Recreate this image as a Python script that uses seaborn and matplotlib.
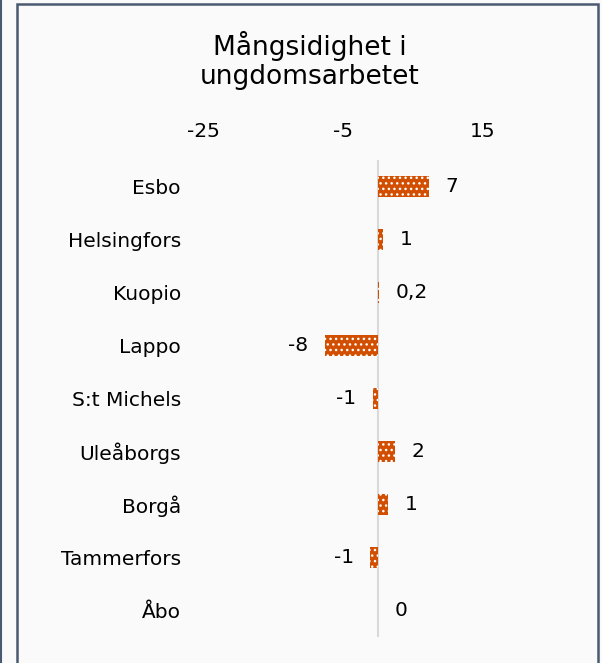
import numpy as np
import pandas as pd
import matplotlib
matplotlib.use("Agg")
import matplotlib.pyplot as plt
import matplotlib.patches as mpatches
import matplotlib.lines as mlines
import seaborn as sns

# data
kommuner = ["Esbo", "Helsingfors", "Kuopio", "Lappo", "S:t Michels",
            "Uleåborgs", "Borgå", "Tammerfors", "Åbo"]
varden = [7.3, 0.7, 0.2, -7.6, -0.7, 2.4, 1.4, -1.1, 0.0]
etiketter = ["7", "1", "0,2", "-8", "-1", "2", "1", "-1", "0"]
x_ticks = [-25, -5, 15]

titel = "Mångsidighet i\nungdomsarbetet"

sns.set_style("white")
plt.rcParams["font.family"] = ["DejaVu Sans"]
plt.rcParams["text.color"] = "black"
plt.rcParams["xtick.color"] = "black"
plt.rcParams["ytick.color"] = "black"
plt.rcParams["hatch.linewidth"] = 1.0

bg = "#FAFAFA"
bar_color = "#D24E01"
frame_color = "#4A5A72"

fig = plt.figure(figsize=(6.02, 6.63), dpi=100, facecolor=bg)
ax = fig.add_axes([203/602, 1-637/663, 280/602, 477/663])
ax.set_facecolor(bg)

df = pd.DataFrame({"kommun": kommuner, "varde": varden})
sns.barplot(data=df, x="varde", y="kommun", orient="h", color=bar_color,
            saturation=1, width=0.4, ax=ax, hatch="...", edgecolor="white",
            linewidth=0)

# zero line
ax.axvline(0, color="#D9D9D9", lw=1.5, zorder=0)

ax.set_xlim(-25, 15)
ax.set_xticks(x_ticks)
ax.set_xticklabels([str(t) for t in x_ticks])
ax.xaxis.tick_top()
ax.tick_params(axis="x", length=0, pad=14, labelsize=14.5)
ax.tick_params(axis="y", length=0, pad=16, labelsize=14.5)
ax.set_xlabel("")
ax.set_ylabel("")
for s in ax.spines.values():
    s.set_visible(False)

# data labels
ax.bar_label(ax.containers[0], labels=etiketter, padding=12, fontsize=14.5,
             color="black")

# title
fig.text(310/602, 1-60/663, titel, ha="center", va="center", fontsize=19,
         linespacing=1.15)

# frame
fig.add_artist(mpatches.Rectangle((17/602, -0.05), 581/602, 1.05-4/663,
                                  transform=fig.transFigure, fill=False,
                                  edgecolor=frame_color, lw=1.8))
fig.add_artist(mlines.Line2D([1/602, 1/602], [0, 1], transform=fig.transFigure,
                             color=frame_color, lw=1.5))

fig.savefig("out.png", dpi=100, facecolor=bg)
